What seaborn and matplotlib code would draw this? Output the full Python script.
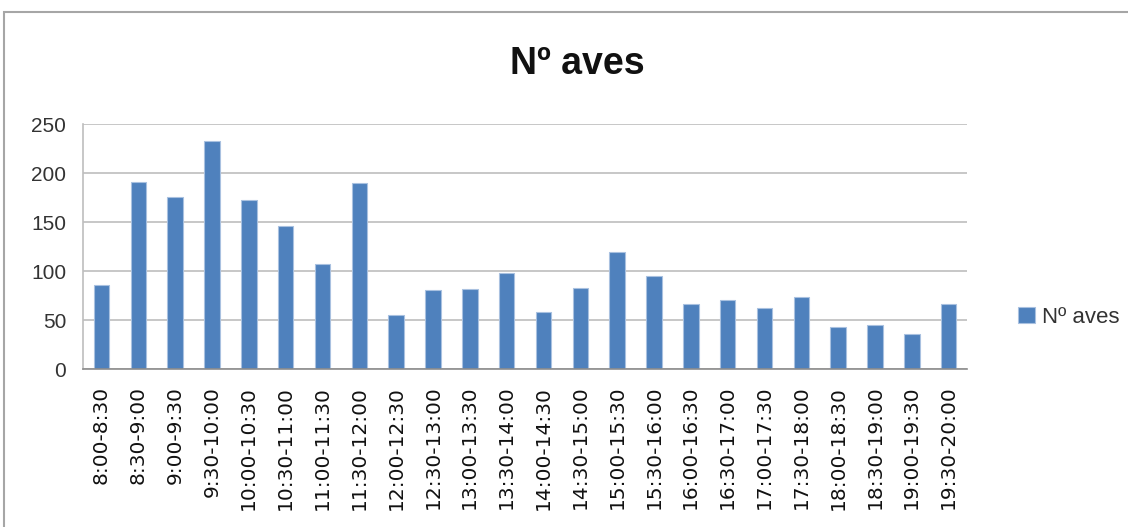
import matplotlib
matplotlib.use("Agg")
import matplotlib.pyplot as plt
from matplotlib.patches import Rectangle
from matplotlib.ticker import FixedLocator
import seaborn as sns
import pandas as pd

# Data
franjas = ["8:00-8:30", "8:30-9:00", "9:00-9:30", "9:30-10:00", "10:00-10:30",
           "10:30-11:00", "11:00-11:30", "11:30-12:00", "12:00-12:30", "12:30-13:00",
           "13:00-13:30", "13:30-14:00", "14:00-14:30", "14:30-15:00", "15:00-15:30",
           "15:30-16:00", "16:00-16:30", "16:30-17:00", "17:00-17:30", "17:30-18:00",
           "18:00-18:30", "18:30-19:00", "19:00-19:30", "19:30-20:00"]
n_aves = [86, 191, 176, 233, 172, 146, 107, 190, 55, 81, 82, 98,
          58, 83, 119, 95, 66, 70, 62, 73, 43, 45, 36, 66]
y_ticks = [0, 50, 100, 150, 200, 250]

df = pd.DataFrame({"franja": franjas, "aves": n_aves})

sns.set_theme(style="white")
plt.rcParams["font.family"] = ["Liberation Sans", "DejaVu Sans"]

fig = plt.figure(figsize=(11.28, 5.27), dpi=100)
ax = fig.add_axes([0.0736, 0.2998, 0.7837, 0.4649])

sns.barplot(data=df, x="franja", y="aves", color="#4F81BD", saturation=1,
            width=0.42, edgecolor="#A9C1E0", linewidth=0.8, ax=ax,
            label="Nº aves")

ax.set_ylim(0, 250)
ax.set_xlim(-0.5, len(franjas) - 0.5)
ax.set_yticks(y_ticks)
ax.yaxis.grid(True, color="#BEBEBE", linewidth=1.2)
ax.set_axisbelow(True)
ax.set_xlabel("")
ax.set_ylabel("")

for side in ["top", "right"]:
    ax.spines[side].set_visible(False)
ax.spines["left"].set_color("#BEBEBE")
ax.spines["bottom"].set_color("#8C8C8C")
ax.spines["left"].set_linewidth(1.2)
ax.spines["bottom"].set_linewidth(1.2)

ax.tick_params(axis="y", labelsize=15, colors="#333333", length=0, pad=12)
ax.tick_params(axis="x", which="major", labelsize=14.5, labelcolor="#111111",
               length=0, rotation=90, pad=12)
for lbl in ax.get_xticklabels():
    lbl.set_family("DejaVu Sans")
ax.xaxis.set_minor_locator(FixedLocator([i - 0.5 for i in range(len(franjas) + 1)]))
ax.tick_params(axis="x", which="minor", length=5, width=1.2, color="#8C8C8C",
               direction="out")

fig.text(0.512, 0.878, "Nº aves", ha="center", va="center",
         fontsize=27, fontweight="bold", color="#111111")

leg = ax.legend(loc="center left", bbox_to_anchor=(1.035, 0.21), frameon=False,
                fontsize=16, handlelength=0.75, handleheight=0.75, handletextpad=0.35)
for t in leg.get_texts():
    t.set_color("#333333")

# chart area border
fig.patches.append(Rectangle((4 / 1128, -0.05), 1.2, 1 - 12 / 527 + 0.05,
                             transform=fig.transFigure, fill=False,
                             edgecolor="#A6A6A6", linewidth=1.5))

fig.savefig("out.png", dpi=100)
